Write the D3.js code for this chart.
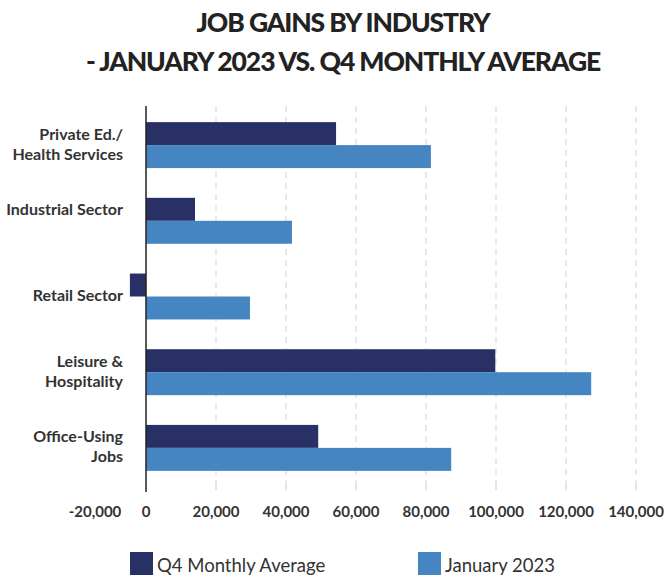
<!DOCTYPE html>
<html><head><meta charset="utf-8">
<script src="https://cdn.jsdelivr.net/npm/d3@7"></script>
<style>body{margin:0;background:#fff;font-family:Lato,"Open Sans",sans-serif}</style>
</head><body>
<svg id="c" width="667" height="575"></svg>
<script>
const categories = ["Private Ed./\nHealth Services","Industrial Sector\n","Retail Sector","Leisure &\nHospitality","Office-Using\nJobs"];
const seriesNames = ["Q4 Monthly Average","January 2023"];
const q4Values = [54300, 14000, -4600, 99800, 49200];
const janValues = [81400, 41700, 29700, 127200, 87200];
const tickValues = [-20000, 0, 20000, 40000, 60000, 80000, 100000, 120000, 140000];
const colors = ["#283066", "#4485C2"];

const svg = d3.select("#c");
const x = d3.scaleLinear().domain([0, 140000]).range([146, 636]);
const y = d3.scaleBand().domain(categories).range([107, 486]).paddingInner(0.393).paddingOuter(0.2);
const sub = d3.scaleBand().domain(seriesNames).range([0, y.bandwidth()]);

// title
const title = svg.append("text").attr("text-anchor","middle").attr("font-weight",900)
  .attr("font-size",26.5).attr("letter-spacing",-1.1).attr("fill","#222");
title.append("tspan").attr("x",343).attr("y",32).text("JOB GAINS BY INDUSTRY");
title.append("tspan").attr("x",343).attr("y",71).text("- JANUARY 2023 VS. Q4 MONTHLY AVERAGE");

// gridlines
const gridVals = tickValues.filter(v => v > 0);
svg.append("g").selectAll("line").data(gridVals).join("line")
  .attr("x1", d => x(d)).attr("x2", d => x(d)).attr("y1", 106).attr("y2", 490)
  .attr("stroke","#e2e2e2").attr("stroke-width",1.5).attr("stroke-dasharray","6,5");

// bars
const data = categories.map((c,i)=>({c, vals:[q4Values[i], janValues[i]]}));
const g = svg.append("g");
data.forEach(d => {
  d.vals.forEach((v,j) => {
    g.append("rect")
      .attr("x", x(Math.min(0,v)))
      .attr("width", Math.abs(x(v)-x(0)))
      .attr("y", y(d.c) + sub(seriesNames[j]))
      .attr("height", sub.bandwidth())
      .attr("fill", colors[j]);
  });
});

// zero axis
svg.append("line").attr("x1",x(0)).attr("x2",x(0)).attr("y1",106).attr("y2",492)
  .attr("stroke","#222").attr("stroke-width",1.5);

// bottom tick marks
svg.append("g").selectAll("line").data(gridVals).join("line")
  .attr("x1", d => x(d)).attr("x2", d => x(d)).attr("y1", 485).attr("y2", 490)
  .attr("stroke","#ccc").attr("stroke-width",1);

// tick labels
const fmt = d => d3.format(",")(d).replace("\u2212","-");
svg.append("g").selectAll("text").data(tickValues).join("text")
  .attr("x", d => d < 0 ? Math.max(x(d), 95) : x(d))
  .attr("y", 517).attr("text-anchor","middle").attr("font-weight",700)
  .attr("font-size",15).attr("fill","#333").text(d => fmt(d));

// category labels
data.forEach(d => {
  const lines = d.c.split("\n");
  const cy = y(d.c) + y.bandwidth()/2;
  const t = svg.append("text").attr("text-anchor","end").attr("font-weight",700)
    .attr("font-size",16).attr("fill","#333");
  lines.forEach((l,i) => {
    t.append("tspan").attr("x",123).attr("y", cy + (i - (lines.length-1)/2)*20 + 4.5).text(l);
  });
});

// legend
const leg = [{n:seriesNames[0], x:130, c:colors[0]},{n:seriesNames[1], x:418, c:colors[1]}];
leg.forEach(l => {
  svg.append("rect").attr("x",l.x).attr("y",552).attr("width",23).attr("height",23).attr("fill",l.c);
  svg.append("text").attr("x",l.x+27).attr("y",572).attr("font-size",18.5).attr("fill","#333").text(l.n);
});
</script>
</body></html>
